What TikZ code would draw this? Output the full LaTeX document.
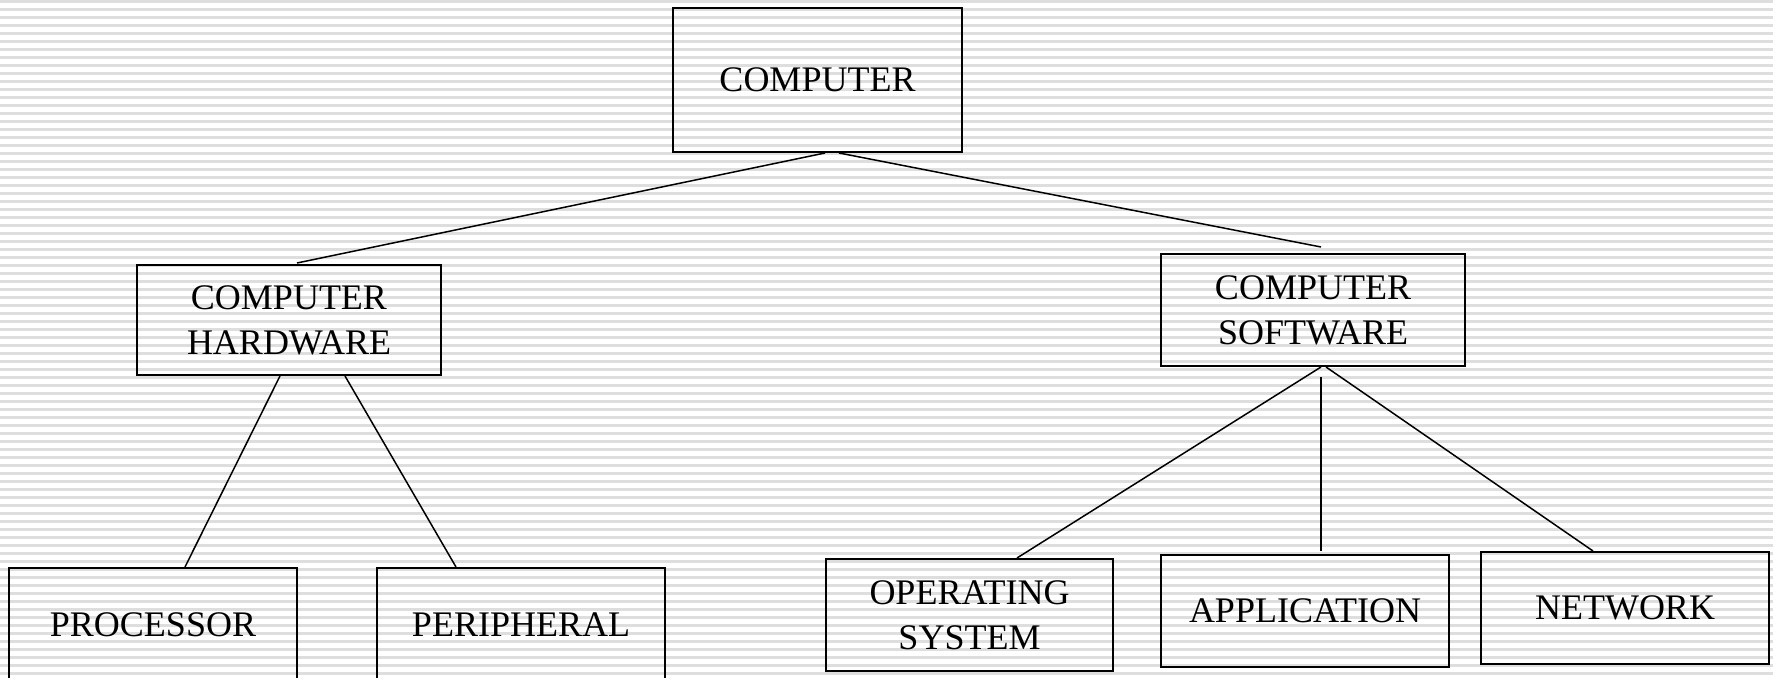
\documentclass[tikz,border=0pt]{standalone}
\usepackage{fontspec}
\setmainfont{Liberation Serif}
\usetikzlibrary{calc}
\begin{document}
\begin{tikzpicture}[x=0.5pt,y=-0.5pt,
  box/.style={draw,line width=1pt,align=center,font=\fontsize{18}{22.6}\selectfont,inner sep=0pt,minimum width=144pt,minimum height=56pt},
  link/.style={line width=0.75pt},
  stripe/.style={black!13,line width=1.3pt}]
\useasboundingbox (0,0) rectangle (1773,678);
\foreach \k in {0,...,85} \draw[stripe] (0,{1.7+8*\k}) -- (1773,{1.7+8*\k});
\node[box,minimum width=144.5pt,minimum height=72pt] (comp) at (817.5,80) {COMPUTER};
\node[box,minimum width=152pt,minimum height=55pt] (hw) at (289,320) {COMPUTER\\HARDWARE};
\node[box,minimum width=152pt] (sw) at (1313,310) {COMPUTER\\SOFTWARE};
\node[box,minimum height=57pt] (proc) at (153,625) {PROCESSOR};
\node[box,minimum height=57pt] (peri) at (521,625) {PERIPHERAL};
\node[box,minimum width=143.5pt] (os) at (969.5,615) {OPERATING\\SYSTEM};
\node[box] (app) at (1305,611) {APPLICATION};
\node[box] (net) at (1625,608) {NETWORK};
\draw[link] ($(comp.south)+(7.5,0)$) -- ($(hw.north)+(8,-1)$);
\draw[link] ($(comp.south)+(21.5,0)$) -- ($(sw.north)+(8,-6)$);
\draw[link] ($(hw.south)+(-9,0)$) -- ($(proc.north)+(32,0)$);
\draw[link] ($(hw.south)+(56,0)$) -- ($(peri.north)+(-65,0)$);
\draw[link] ($(sw.south)+(8,0)$) -- ($(os.north)+(47.5,0)$);
\draw[link] ($(sw.south)+(8,10)$) -- ($(app.north)+(16,-3)$);
\draw[link] ($(sw.south)+(13,0)$) -- ($(net.north)+(-32,0)$);
\end{tikzpicture}
\end{document}
